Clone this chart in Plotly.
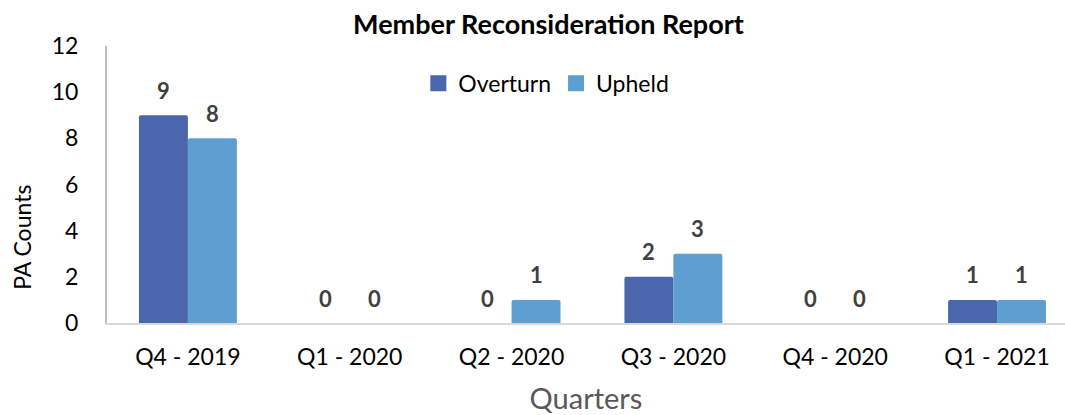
import plotly.graph_objects as go

quarters = ["Q4 - 2019", "Q1 - 2020", "Q2 - 2020", "Q3 - 2020", "Q4 - 2020", "Q1 - 2021"]
overturn = [9, 0, 0, 2, 0, 1]
upheld = [8, 0, 1, 3, 0, 1]
y_ticks = [0, 2, 4, 6, 8, 10, 12]

FONT = "Lato"
C_OVER = "#4A66AC"
C_UP = "#5F9ED1"
BAR_GAP = 0.395
half = (1 - BAR_GAP) / 4  # offset of each bar's centre from the category centre

fig = go.Figure()
fig.add_trace(go.Bar(name="Overturn", x=quarters, y=overturn, marker_color=C_OVER,
                     marker_line_width=0, showlegend=False))
fig.add_trace(go.Bar(name="Upheld", x=quarters, y=upheld, marker_color=C_UP,
                     marker_line_width=0, showlegend=False))

# legend entries with large square swatches
for name, col in (("Overturn", C_OVER), ("Upheld", C_UP)):
    fig.add_trace(go.Scatter(x=[None], y=[None], mode="markers", name=name,
                             marker=dict(symbol="square", size=18, color=col)))

# value labels above each bar
for series, sign in ((overturn, -1), (upheld, 1)):
    for i, v in enumerate(series):
        fig.add_annotation(x=i + sign * half, y=v, text=f"<b>{v}</b>", showarrow=False,
                           yshift=25, font=dict(family=FONT, size=22, color="#404040"),
                           xref="x", yref="y")

# y-axis title, set a little below the vertical middle of the plot
fig.add_annotation(text="PA Counts", textangle=-90, showarrow=False,
                   xref="paper", yref="paper", x=-0.089, y=0.31,
                   xanchor="center", yanchor="middle",
                   font=dict(family=FONT, size=23, color="black"))

fig.update_layout(
    width=1065, height=415,
    margin=dict(l=107, r=0, t=46, b=92),
    paper_bgcolor="white", plot_bgcolor="white",
    barmode="group", bargap=BAR_GAP, bargroupgap=0, barcornerradius=2,
    title=dict(text="<b>Member Reconsideration Report</b>", x=0.515, xanchor="center",
               y=0.94, yanchor="middle", font=dict(family=FONT, size=27, color="black")),
    legend=dict(orientation="h", x=0.325, y=0.865, xanchor="left", yanchor="middle",
                font=dict(family=FONT, size=23, color="black"), bgcolor="rgba(0,0,0,0)",
                itemwidth=30, traceorder="normal"),
    font=dict(family=FONT, color="black"),
    xaxis=dict(range=[-0.5, 5.42], showgrid=False, showline=True, linecolor="#D9D9D9",
               linewidth=2, ticks="", tickfont=dict(size=23, color="black"),
               ticklabelstandoff=12,
               title=dict(text="Quarters", font=dict(size=29, color="#595959"), standoff=21)),
    yaxis=dict(range=[0, 12], tickvals=y_ticks, showgrid=False, showline=True,
               linecolor="#BFBFBF", linewidth=2, zeroline=False, ticks="",
               tickfont=dict(size=23, color="black"), ticklabelstandoff=22),
)

fig.write_html("out.html")
